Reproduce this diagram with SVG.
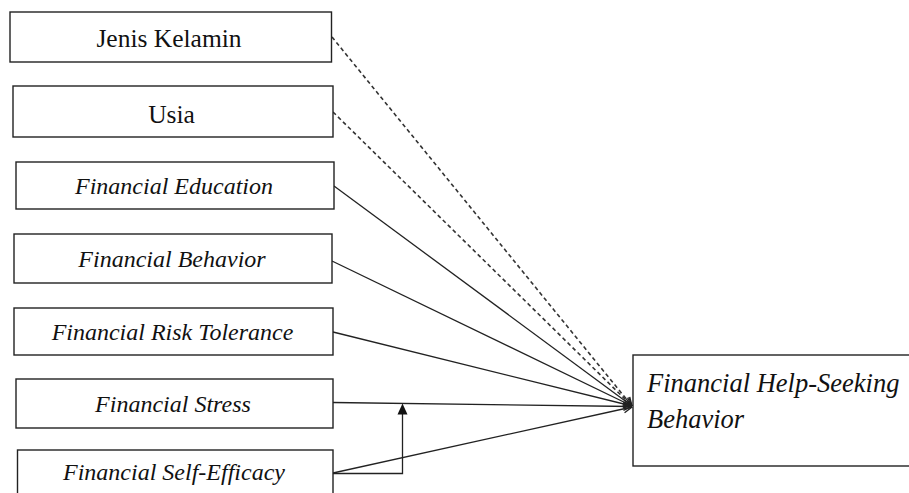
<svg xmlns="http://www.w3.org/2000/svg" width="909" height="493" viewBox="0 0 909 493">
<defs>
<style>
.box{fill:#fff;stroke:#222;stroke-width:1.4}
.t{font-family:"Liberation Serif","Times New Roman",serif;fill:#111;text-anchor:middle}
.r{font-size:25.5px}
.i{font-size:24px;font-style:italic}
.tt{font-family:"Liberation Serif","Times New Roman",serif;fill:#111;font-size:26.5px;font-style:italic}
.ln{stroke:#222;stroke-width:1.3;fill:none}
.d{stroke:#333;stroke-width:1.6;stroke-dasharray:4 3}
</style>
<marker id="oa" viewBox="0 0 10 10" refX="9.5" refY="5" markerWidth="10" markerHeight="10" markerUnits="userSpaceOnUse" orient="auto">
<path d="M1,1 L9.5,5 L1,9" fill="none" stroke="#222" stroke-width="1.3"/>
</marker>
</defs>
<g id="connectors">
<line class="ln d" x1="332" y1="37" x2="632" y2="406" marker-end="url(#oa)"/>
<line class="ln d" x1="333" y1="112" x2="632" y2="406" marker-end="url(#oa)"/>
<line class="ln" x1="334" y1="186" x2="632" y2="406" marker-end="url(#oa)"/>
<line class="ln" x1="332" y1="261" x2="632" y2="406" marker-end="url(#oa)"/>
<line class="ln" x1="333" y1="332" x2="632" y2="406" marker-end="url(#oa)"/>
<line class="ln" x1="333" y1="402.5" x2="632" y2="406.5" marker-end="url(#oa)"/>
<line class="ln" x1="333" y1="473" x2="632" y2="407" marker-end="url(#oa)"/>
<polyline class="ln" points="333,473.5 402.5,473.5 402.5,414"/>
<path d="M402.5,403.5 L407.5,414.5 L397.5,414.5 Z" fill="#111"/>
</g>
<g id="jenis-kelamin">
<rect class="box" x="10" y="12" width="321.5" height="50"/>
<text class="t r" x="169" y="47">Jenis Kelamin</text>
</g>
<g id="usia">
<rect class="box" x="13" y="86" width="320" height="51"/>
<text class="t r" x="171.5" y="122.5">Usia</text>
</g>
<g id="financial-education">
<rect class="box" x="16" y="162" width="318" height="47"/>
<text class="t i" x="174" y="193.5">Financial Education</text>
</g>
<g id="financial-behavior">
<rect class="box" x="14" y="234" width="318" height="49"/>
<text class="t i" x="172" y="266.5">Financial Behavior</text>
</g>
<g id="financial-risk-tolerance">
<rect class="box" x="14" y="308" width="319" height="47"/>
<text class="t i" x="172.5" y="340">Financial Risk Tolerance</text>
</g>
<g id="financial-stress">
<rect class="box" x="16" y="379" width="317" height="49"/>
<text class="t i" x="173" y="412">Financial Stress</text>
</g>
<g id="financial-self-efficacy">
<rect class="box" x="17.5" y="450" width="315.5" height="50"/>
<text class="t i" x="174" y="480">Financial Self-Efficacy</text>
</g>
<g id="financial-help-seeking-behavior">
<rect class="box" x="633" y="355" width="290" height="111"/>
<text class="tt" x="647" y="391.5">Financial Help-Seeking</text>
<text class="tt" x="647" y="427.5">Behavior</text>
</g>
</svg>
